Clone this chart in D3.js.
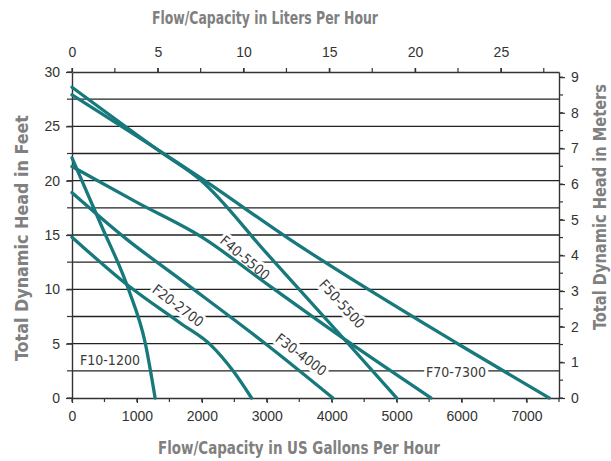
<!DOCTYPE html>
<html>
<head>
<meta charset="utf-8">
<script src="https://cdn.jsdelivr.net/npm/d3@7"></script>
<style>
  body { margin: 0; background: #fff; }
  svg { font-family: "Liberation Sans Narrow", "DejaVu Sans Condensed", sans-serif; }
</style>
</head>
<body>
<script>
// chart size
const width = 611;
const height = 461;

// pump curves: [US gallons per hour, feet of head]
const f10 = [[0, 22.1], [450, 15.9], [870, 10.0], [1130, 5.0], [1280, 0]];
const f20 = [[0, 14.8], [875, 10.3], [1665, 6.9], [2150, 4.8], [2480, 2.5], [2765, 0]];
const f30 = [[0, 18.9], [845, 14.6], [1694, 10.8], [3000, 4.9], [4018, 0]];
const f40 = [[0, 21.3], [1000, 18.0], [2000, 14.8], [3000, 10.5], [4224, 5.3], [5530, 0]];
const f50 = [[0, 28.6], [1400, 22.5], [1970, 20.1], [3000, 13.3], [4224, 5.2], [5000, 0]];
const f70 = [[0, 27.9], [1970, 20.3], [3354, 14.6], [5966, 4.9], [7350, 0]];

const modelNames = ["F10-1200", "F20-2700", "F30-4000", "F40-5500", "F50-5500", "F70-7300"];
const modelCurves = [f10, f20, f30, f40, f50, f70];

// axis ticks
const gphTicks = [0, 1000, 2000, 3000, 4000, 5000, 6000, 7000];
const lphTicks = [0, 5, 10, 15, 20, 25];
const feetTicks = [0, 5, 10, 15, 20, 25, 30];
const meterTicks = [0, 1, 2, 3, 4, 5, 6, 7, 8, 9];

// where each model name sits, in chart units [gph, feet, angle]
const labelSpots = [[585, 3.5, 0], [1633, 8.5, 37], [3527, 4.0, 37], [2664, 12.9, 40], [4158, 8.65, 48], [5914, 2.4, 0]];

const svg = d3.select("body")
  .append("svg")
  .attr("width", width)
  .attr("height", height);

const x = d3.scaleLinear().domain([0, 7500]).range([72, 559]);
const y = d3.scaleLinear().domain([0, 30]).range([398, 72]);
// same span in liters (thousands) and meters
const xL = d3.scaleLinear().domain([0, 7500 * 3.785 / 1000]).range(x.range());
const yM = d3.scaleLinear().domain([0, 30 * 0.3048]).range(y.range());

const ink = "#333";
const titleGray = "#808080";
const teal = "#17797c";

// horizontal grid every 2.5 ft
svg.append("g")
  .selectAll("line")
  .data(d3.range(2.5, 30, 2.5))
  .enter()
  .append("line")
  .attr("x1", x(0))
  .attr("x2", x(7500))
  .attr("y1", d => y(d))
  .attr("y2", d => y(d))
  .attr("stroke", "#222")
  .attr("stroke-width", 1.3);

// axes
function styleAxis(g) {
  g.select(".domain").attr("stroke", ink).attr("stroke-width", 1.4);
  g.selectAll(".tick line").attr("stroke", ink).attr("stroke-width", 1.2);
  g.selectAll(".tick text").attr("fill", ink).style("font-size", "14px");
}

// minor ticks
const minor = (scale, step, max, orient, size) => {
  const g = svg.append("g");
  g.selectAll("line")
    .data(d3.range(0, max + 0.001, step))
    .enter()
    .append("line")
    .attr("stroke", ink)
    .attr("stroke-width", 1.2)
    .each(function(d) {
      const l = d3.select(this);
      if (orient === "bottom") l.attr("x1", scale(d)).attr("x2", scale(d)).attr("y1", y(0)).attr("y2", y(0) + size);
      if (orient === "top") l.attr("x1", scale(d)).attr("x2", scale(d)).attr("y1", y(30)).attr("y2", y(30) - size);
      if (orient === "left") l.attr("y1", scale(d)).attr("y2", scale(d)).attr("x1", x(0)).attr("x2", x(0) - size);
      if (orient === "right") l.attr("y1", scale(d)).attr("y2", scale(d)).attr("x1", x(7500)).attr("x2", x(7500) + size);
    });
};
minor(x, 500, 7500, "bottom", 4);
minor(xL, 2.5, 27.5, "top", 4);
minor(y, 2.5, 30, "left", 5);
minor(yM, 0.5, 9, "right", 4);

svg.append("g")
  .attr("transform", `translate(0,${y(0)})`)
  .call(d3.axisBottom(x).tickValues(gphTicks).tickFormat(d3.format("d")).tickSize(5).tickPadding(8).tickSizeOuter(0))
  .call(styleAxis);

svg.append("g")
  .attr("transform", `translate(0,${y(30)})`)
  .call(d3.axisTop(xL).tickValues(lphTicks).tickFormat(d3.format("d")).tickSize(4).tickPadding(11).tickSizeOuter(0))
  .call(styleAxis);

svg.append("g")
  .attr("transform", `translate(${x(0)},0)`)
  .call(d3.axisLeft(y).tickValues(feetTicks).tickSize(6).tickPadding(6).tickSizeOuter(0))
  .call(styleAxis);

svg.append("g")
  .attr("transform", `translate(${x(7500)},0)`)
  .call(d3.axisRight(yM).tickValues(meterTicks).tickSize(6).tickPadding(6).tickSizeOuter(0))
  .call(styleAxis);

// model names, with a white halo that breaks the grid lines
svg.append("g")
  .selectAll("text")
  .data(modelNames)
  .enter()
  .append("text")
  .attr("transform", (d, i) => `translate(${x(labelSpots[i][0])},${y(labelSpots[i][1])}) rotate(${labelSpots[i][2]})`)
  .attr("text-anchor", "middle")
  .attr("dy", "0.35em")
  .attr("fill", "#3a3a3a")
  .attr("stroke", "#fff")
  .attr("stroke-width", 6)
  .attr("paint-order", "stroke")
  .style("font-size", "14px")
  .text(d => d);

// pump curves
const line = d3.line()
  .x(d => x(d[0]))
  .y(d => y(d[1]))
  .curve(d3.curveMonotoneX);

svg.append("g")
  .selectAll("path")
  .data(modelCurves)
  .enter()
  .append("path")
  .attr("d", line)
  .attr("fill", "none")
  .attr("stroke", teal)
  .attr("stroke-width", 3.3)
  .attr("stroke-linecap", "round");

// axis titles
const title = (txt, tx, ty, rot, len) => svg.append("text")
  .attr("transform", `translate(${tx},${ty}) rotate(${rot})`)
  .attr("text-anchor", "middle")
  .attr("dy", "0.35em")
  .attr("fill", titleGray)
  .attr("textLength", len)
  .attr("lengthAdjust", "spacingAndGlyphs")
  .style("font-size", "17px")
  .style("font-weight", "bold")
  .text(txt);

title("Flow/Capacity in Liters Per Hour", 265, 18, 0, 226);
title("Flow/Capacity in US Gallons Per Hour", 299, 448, 0, 282);
title("Total Dynamic Head in Feet", 22, 238, -90, 246);
title("Total Dynamic Head in Meters", 600, 207, -90, 246);
</script>
</body>
</html>
